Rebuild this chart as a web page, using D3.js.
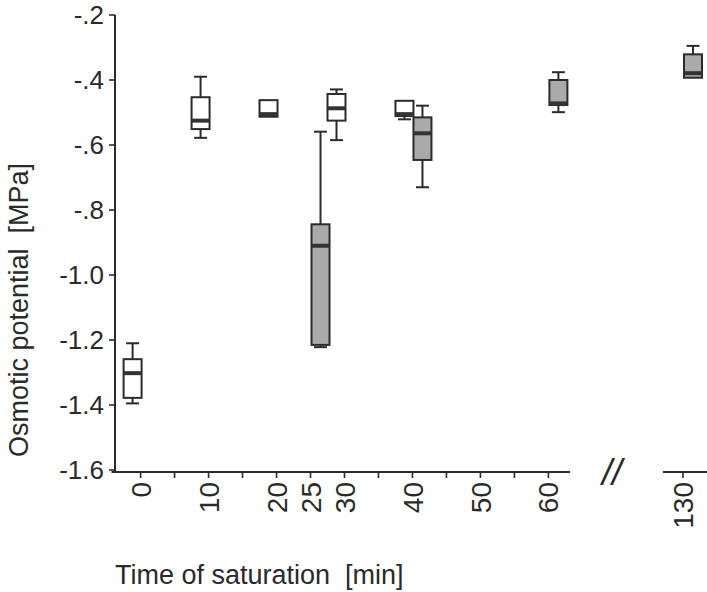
<!DOCTYPE html>
<html>
<head>
<meta charset="utf-8">
<script src="https://cdn.jsdelivr.net/npm/d3@7/dist/d3.min.js"></script>
<style>
  html, body { margin: 0; padding: 0; background: #fff; }
  svg { display: block; }
  text { font-family: "Liberation Sans", Arial, sans-serif; fill: #2a2a2a; }
</style>
</head>
<body>
<svg id="chart" width="707" height="592"></svg>
<script>
// ---- data ----
const yTicks = [-0.2, -0.4, -0.6, -0.8, -1.0, -1.2, -1.4, -1.6];
const yTickLabels = ["-.2", "-.4", "-.6", "-.8", "-1.0", "-1.2", "-1.4", "-1.6"];
const xMinorTicks = [0, 5, 10, 15, 20, 25, 30, 35, 40, 45, 50, 55, 60, 130];
const xTickLabels = [0, 10, 20, 25, 30, 40, 50, 60, 130];

// white boxes
const whiteTimes = [0, 10, 20, 30, 40];
const whiteLow    = [-1.395, -0.578, -0.513, -0.585, -0.521];
const whiteQ1     = [-1.378, -0.551, -0.513, -0.525, -0.511];
const whiteMedian = [-1.302, -0.525, -0.505, -0.487, -0.505];
const whiteQ3     = [-1.259, -0.453, -0.462, -0.443, -0.464];
const whiteHigh   = [-1.210, -0.390, -0.462, -0.429, -0.464];

// grey boxes
const greyTimes = [25, 40, 60, 130];
const greyLow    = [-1.222, -0.730, -0.499, -0.393];
const greyQ1     = [-1.215, -0.646, -0.477, -0.393];
const greyMedian = [-0.910, -0.564, -0.472, -0.379];
const greyQ3     = [-0.844, -0.515, -0.400, -0.321];
const greyHigh   = [-0.559, -0.479, -0.376, -0.295];

// ---- layout ----
const svg = d3.select("#chart");
const axisX = 115, axisY = 472;
const y = d3.scaleLinear().domain([-1.6, -0.2]).range([470, 15]);
// broken axis: 0..60 linear, then jump to 130
const x = d3.scaleLinear().domain([0, 60, 130]).range([140.6, 548.4, 683]);
const ink = "#2b2b2b";
const fontSize = 26;

// Y axis
const yAxis = svg.append("g").attr("transform", `translate(${axisX},0)`);
yAxis.append("line").attr("x1", 0).attr("x2", 0).attr("y1", y(-0.2)).attr("y2", axisY)
  .attr("stroke", ink).attr("stroke-width", 2);
yAxis.selectAll("line.tick").data(yTicks).join("line").attr("class", "tick")
  .attr("x1", -6).attr("x2", 0).attr("y1", d => y(d)).attr("y2", d => y(d))
  .attr("stroke", ink).attr("stroke-width", 1.6);
yAxis.selectAll("text").data(yTicks).join("text")
  .attr("x", -11).attr("y", d => y(d)).attr("dy", "0.35em")
  .attr("text-anchor", "end").attr("font-size", fontSize)
  .text((d, i) => yTickLabels[i]);

// X axis (broken)
const xAxis = svg.append("g");
xAxis.append("line").attr("x1", 111.5).attr("x2", 570).attr("y1", axisY).attr("y2", axisY)
  .attr("stroke", ink).attr("stroke-width", 2);
xAxis.append("line").attr("x1", 663).attr("x2", 707).attr("y1", axisY).attr("y2", axisY)
  .attr("stroke", ink).attr("stroke-width", 2);
xAxis.selectAll("line.tick").data(xMinorTicks).join("line").attr("class", "tick")
  .attr("x1", d => x(d)).attr("x2", d => x(d)).attr("y1", axisY).attr("y2", axisY + 6)
  .attr("stroke", ink).attr("stroke-width", 1.6);
xAxis.selectAll("text.lbl").data(xTickLabels).join("text").attr("class", "lbl")
  .attr("transform", d => `translate(${x(d)},${axisY + 10}) rotate(-90)`)
  .attr("dy", "0.36em").attr("text-anchor", "end").attr("font-size", 28)
  .text(d => d);
// break marker
xAxis.append("text").attr("x", 612).attr("y", 485).attr("text-anchor", "middle")
  .attr("font-size", 36).attr("font-style", "italic").text("//");

// titles
svg.append("text").attr("x", 115).attr("y", 584).attr("font-size", 27)
  .style("white-space", "pre")
  .text("Time of saturation  [min]");
svg.append("text").attr("transform", "translate(28,310) rotate(-90)")
  .attr("text-anchor", "middle").attr("font-size", 27)
  .style("white-space", "pre")
  .text("Osmotic potential  [MPa]");

// ---- boxes ----
function drawBoxes(times, lo, q1, med, q3, hi, offset, fill) {
  const data = times.map((t, i) => ({ t, lo: lo[i], q1: q1[i], med: med[i], q3: q3[i], hi: hi[i] }));
  const w = 18, cap = 13;
  const g = svg.append("g").selectAll("g").data(data).join("g")
    .attr("transform", d => `translate(${x(d.t) + offset},0)`);
  g.filter(d => d.hi > d.q3).append("line")
    .attr("x1", 0).attr("x2", 0).attr("y1", d => y(d.hi)).attr("y2", d => y(d.q3))
    .attr("stroke", ink).attr("stroke-width", 2);
  g.filter(d => d.lo < d.q1).append("line")
    .attr("x1", 0).attr("x2", 0).attr("y1", d => y(d.q1)).attr("y2", d => y(d.lo))
    .attr("stroke", ink).attr("stroke-width", 2);
  g.filter(d => d.hi > d.q3).append("line")
    .attr("x1", -cap / 2).attr("x2", cap / 2).attr("y1", d => y(d.hi)).attr("y2", d => y(d.hi))
    .attr("stroke", ink).attr("stroke-width", 2);
  g.filter(d => d.lo < d.q1).append("line")
    .attr("x1", -cap / 2).attr("x2", cap / 2).attr("y1", d => y(d.lo)).attr("y2", d => y(d.lo))
    .attr("stroke", ink).attr("stroke-width", 2);
  g.append("rect")
    .attr("x", -w / 2).attr("width", w)
    .attr("y", d => y(d.q3)).attr("height", d => y(d.q1) - y(d.q3))
    .attr("fill", fill).attr("stroke", ink).attr("stroke-width", 2);
  g.append("line")
    .attr("x1", -w / 2).attr("x2", w / 2).attr("y1", d => y(d.med)).attr("y2", d => y(d.med))
    .attr("stroke", "#333").attr("stroke-width", 4);
}
drawBoxes(whiteTimes, whiteLow, whiteQ1, whiteMedian, whiteQ3, whiteHigh, -8, "#ffffff");
drawBoxes(greyTimes, greyLow, greyQ1, greyMedian, greyQ3, greyHigh, 10, "#aaaaaa");
</script>
</body>
</html>
